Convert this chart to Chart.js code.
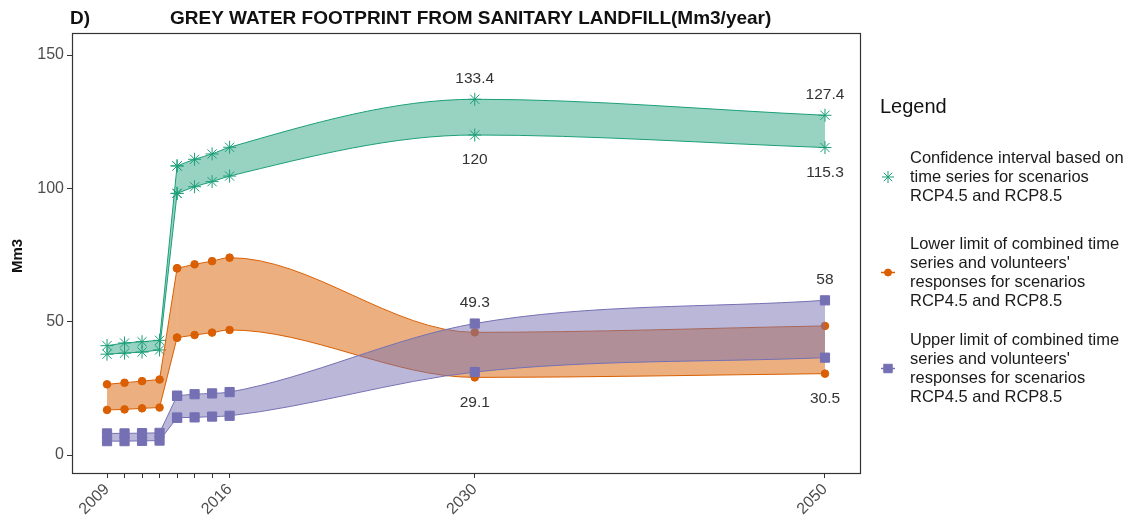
<!DOCTYPE html>
<html><head><meta charset="utf-8">
<script src="https://cdn.jsdelivr.net/npm/chart.js@4.4.0/dist/chart.umd.min.js"></script>
<style>html,body{margin:0;padding:0;background:#fff}#wrap{position:relative;width:1134px;height:520px}</style>
</head><body><div id="wrap"><canvas id="c" width="1134" height="520"></canvas></div>
<script>
// ---- data ----
const years = [2009, 2010, 2011, 2012, 2013, 2014, 2015, 2016, 2030, 2050];
const greenUpper  = [41.0, 42.0, 42.5, 43.0, 108.4, 110.9, 112.9, 115.4, 133.4, 127.4];
const greenLower  = [37.8, 38.2, 38.6, 39.4, 98.1, 100.6, 102.5, 104.6, 120, 115.3];
const orangeUpper = [26.5, 27.1, 27.7, 28.3, 70.0, 71.5, 72.7, 74.0, 46.0, 48.4];
const orangeLower = [16.9, 17.1, 17.5, 17.8, 44.0, 45.0, 45.9, 46.9, 29.1, 30.5];
const purpleUpper = [8.1, 8.1, 8.2, 8.3, 22.2, 22.8, 23.1, 23.6, 49.3, 58];
const purpleLower = [5.2, 5.2, 5.3, 5.4, 14.0, 14.1, 14.4, 14.7, 31.1, 36.5];
const xTickYears = [2009, 2010, 2011, 2012, 2013, 2014, 2015, 2016, 2030, 2050];
const xLabelYears = [2009, 2016, 2030, 2050];
const yTicks = [0, 50, 100, 150];
const legendLabels = [
  ["Confidence interval based on", "time series for scenarios", "RCP4.5 and RCP8.5"],
  ["Lower limit of combined time", "series and volunteers'", "responses for scenarios", "RCP4.5 and RCP8.5"],
  ["Upper limit of combined time", "series and volunteers'", "responses for scenarios", "RCP4.5 and RCP8.5"]
];
const valueLabels = [
  {series: greenUpper, year: 2030, side: 'above'},
  {series: greenLower, year: 2030, side: 'below'},
  {series: greenUpper, year: 2050, side: 'above'},
  {series: greenLower, year: 2050, side: 'below'},
  {series: purpleUpper, year: 2030, side: 'above'},
  {series: orangeLower, year: 2030, side: 'below'},
  {series: purpleUpper, year: 2050, side: 'above'},
  {series: orangeLower, year: 2050, side: 'below'}
];

const GREEN = '#1B9E77', ORANGE = '#D95F02', PURPLE = '#7570B3';
const FONT = "'Liberation Sans', Arial, Helvetica, sans-serif";

function band(upper, lower, color, fillColor, pointStyle, radius) {
  const split = years.indexOf(2013);
  const pts = (arr, a, b) => years.slice(a, b).map((x, i) => ({x: x, y: arr[a + i]}));
  const common = {
    borderColor: color, borderWidth: 1, backgroundColor: fillColor,
    pointStyle: pointStyle, pointRadius: radius, pointHoverRadius: radius,
    pointBackgroundColor: color, pointBorderColor: color, pointBorderWidth: 1
  };
  return [
    Object.assign({}, common, {data: pts(upper, 0, split + 1), fill: false}),
    Object.assign({}, common, {data: pts(lower, 0, split + 1), fill: '-1'}),
    Object.assign({}, common, {data: pts(upper, split, years.length), fill: false, cubicInterpolationMode: 'monotone'}),
    Object.assign({}, common, {data: pts(lower, split, years.length), fill: '-1', cubicInterpolationMode: 'monotone'})
  ];
}

const datasets = [].concat(
  band(purpleUpper, purpleLower, PURPLE, 'rgba(117,112,179,0.5)', 'rect', 6.5),
  band(orangeUpper, orangeLower, ORANGE, 'rgba(217,95,2,0.5)', 'circle', 3.8),
  band(greenUpper, greenLower, GREEN, 'rgba(27,158,119,0.45)', 'star', 6.5)
);

const decor = {
  id: 'decor',
  afterDraw(chart) {
    const ctx = chart.ctx, a = chart.chartArea;
    const xs = chart.scales.x, ys = chart.scales.y;
    ctx.save();
    // panel border
    ctx.strokeStyle = '#333'; ctx.lineWidth = 1.2;
    ctx.strokeRect(a.left + 0.5, a.top + 0.5, a.right - a.left, a.bottom - a.top);
    // value labels
    ctx.fillStyle = '#333'; ctx.font = '15.5px ' + FONT;
    ctx.textAlign = 'center'; ctx.textBaseline = 'middle';
    valueLabels.forEach(l => {
      const v = l.series[years.indexOf(l.year)];
      const px = xs.getPixelForValue(l.year), py = ys.getPixelForValue(v);
      ctx.fillText(String(v), px, py + (l.side === 'above' ? -21 : 25));
    });
    // titles
    ctx.fillStyle = '#111'; ctx.font = 'bold 19px ' + FONT;
    ctx.textAlign = 'left'; ctx.textBaseline = 'middle';
    ctx.fillText('D)', 70, 19);
    ctx.fillText('GREY WATER FOOTPRINT FROM SANITARY LANDFILL(Mm3/year)', 170, 19);
    // y axis title
    ctx.save();
    ctx.translate(18, 256); ctx.rotate(-Math.PI / 2);
    ctx.textAlign = 'center'; ctx.font = 'bold 15px ' + FONT;
    ctx.fillText('Mm3', 0, 0);
    ctx.restore();
    // legend
    ctx.fillStyle = '#111'; ctx.font = '20px ' + FONT;
    ctx.textAlign = 'left'; ctx.textBaseline = 'middle';
    ctx.fillText('Legend', 880, 107);
    const starts = [158, 244, 340];
    const styles = [
      {c: GREEN, s: 'star', r: 6, line: false},
      {c: ORANGE, s: 'circle', r: 3.5, line: true},
      {c: PURPLE, s: 'rect', r: 6, line: true}
    ];
    ctx.font = '16.5px ' + FONT;
    legendLabels.forEach((lines, i) => {
      lines.forEach((t, j) => { ctx.fillStyle = '#1a1a1a'; ctx.fillText(t, 910, starts[i] + j * 19); });
      const cy = starts[i] + (lines.length - 1) * 19 / 2;
      const st = styles[i];
      if (st.line) {
        ctx.strokeStyle = st.c; ctx.lineWidth = 1.5;
        ctx.beginPath(); ctx.moveTo(881, cy); ctx.lineTo(895, cy); ctx.stroke();
      }
      ctx.fillStyle = st.c; ctx.strokeStyle = st.c; ctx.lineWidth = 1;
      Chart.helpers.drawPoint(ctx, {pointStyle: st.s, radius: st.r, borderWidth: 1, rotation: 0}, 888, cy);
    });
    ctx.restore();
  }
};

new Chart(document.getElementById('c'), {
  type: 'line',
  data: {datasets: datasets},
  options: {
    responsive: false, animation: false, devicePixelRatio: 1,
    layout: {padding: {top: 33, right: 274, left: 0, bottom: 0}},
    plugins: {legend: {display: false}, tooltip: {enabled: false}, title: {display: false}},
    scales: {
      x: {
        type: 'linear', min: 2007, max: 2052,
        afterBuildTicks: s => { s.ticks = xTickYears.map(v => ({value: v})); },
        afterFit: s => { s.height = 47; },
        ticks: {autoSkip: false, minRotation: 45, maxRotation: 45, padding: 2,
          callback: v => xLabelYears.includes(v) ? String(v) : '',
          color: '#4d4d4d', font: {size: 16, family: FONT}},
        grid: {drawOnChartArea: false, tickLength: 5, color: '#333'},
        border: {color: '#333', width: 1}
      },
      y: {
        min: -6.75, max: 158.25,
        afterBuildTicks: s => { s.ticks = yTicks.map(v => ({value: v})); },
        afterFit: s => { s.width = 72; },
        ticks: {padding: 3, color: '#4d4d4d', font: {size: 16, family: FONT}},
        grid: {drawOnChartArea: false, tickLength: 5, color: '#333'},
        border: {color: '#333', width: 1}
      }
    }
  },
  plugins: [decor]
});
</script>
</body></html>
